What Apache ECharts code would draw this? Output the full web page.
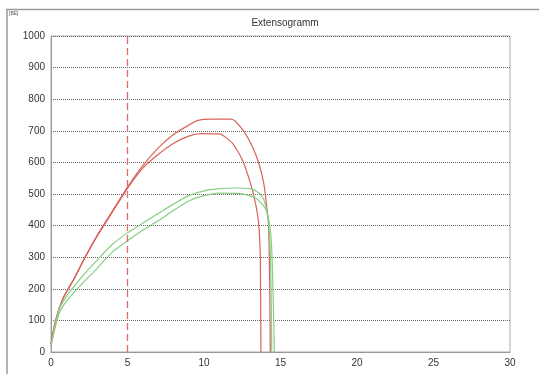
<!DOCTYPE html>
<html>
<head>
<meta charset="utf-8">
<script src="https://cdn.jsdelivr.net/npm/echarts@6/dist/echarts.min.js"></script>
<style>
  html, body { margin: 0; padding: 0; background: #fff; }
  #chart { width: 539px; height: 374px; }
</style>
</head>
<body>
<div id="chart"></div>
<script>
// Dehnung (x) / Widerstand (y)
const redUpperX = [0, 0.3, 0.8, 1.5, 2.2, 3, 4, 5, 6, 7, 8, 9, 9.6, 10.5, 11.8, 12.5, 13.14, 13.57, 13.9, 14.1, 14.22, 14.3, 14.33];
const redUpperY = [25, 100, 172, 232, 298, 368, 445, 522, 590, 645, 688, 718, 733, 737, 737, 705, 652, 599, 535, 461, 398, 200, 0];

const redLowerX = [0, 0.3, 0.8, 1.5, 2.2, 3, 4, 5, 6, 7, 8, 9, 9.8, 11, 11.84, 12.49, 13.03, 13.36, 13.57, 13.68, 13.72];
const redLowerY = [25, 100, 170, 230, 296, 365, 442, 518, 582, 625, 660, 683, 691, 690, 662, 610, 535, 472, 408, 300, 0];

const greenUpperX = [0, 0.5, 1, 2, 3, 4, 5, 6, 7, 8, 9, 10, 11, 12, 13.1, 13.79, 14.1, 14.22, 14.35, 14.43];
const greenUpperY = [20, 130, 175, 237, 290, 340, 377, 408, 438, 468, 495, 510, 517, 519, 517, 493, 451, 408, 300, 0];

const greenLowerX = [0, 0.5, 1, 2, 3, 4, 5, 6, 7, 8, 9, 10, 11, 12.3, 13.36, 14, 14.3, 14.45, 14.6];
const greenLowerY = [20, 118, 160, 215, 264, 316, 352, 385, 415, 448, 478, 495, 503, 502, 488, 455, 400, 300, 0];

const xTicks = [0, 30, 5];
const yTicks = [0, 1000, 100];
const markX = 5;

function pairs(xs, ys) {
  return xs.map(function (x, i) { return [x, ys[i]]; });
}

const chart = echarts.init(document.getElementById("chart"));

function curve(name, xs, ys, color) {
  return {
    name: name,
    type: "line",
    color: color,
    data: pairs(xs, ys),
    showSymbol: false,
    smooth: 0.2,
    lineStyle: { color: color, width: 1.2 },
    animation: false
  };
}

const series = [
  curve("rot1", redUpperX, redUpperY, "#d8625c"),
  curve("rot2", redLowerX, redLowerY, "#d8625c"),
  curve("gruen1", greenUpperX, greenUpperY, "#86cf82"),
  curve("gruen2", greenLowerX, greenLowerY, "#86cf82")
];
series[0].markLine = {
  silent: true,
  symbol: ["none", "none"],
  label: { show: false },
  emphasis: { disabled: true },
  lineStyle: { color: "#e36b6b", type: [7, 4], width: 1.3, opacity: 1 },
  data: [{ xAxis: markX, lineStyle: { color: "#e36b6b" } }]
};

chart.setOption({
  animation: false,
  textStyle: { fontFamily: "Liberation Sans" },
  title: {
    text: "Extensogramm",
    left: 280,
    top: 13,
    textAlign: "center",
    textStyle: { fontSize: 10, fontWeight: "normal", color: "#333" }
  },
  graphic: [
    {
      type: "polyline",
      shape: { points: [[7, 374], [7, 9.5], [539, 9.5]] },
      style: { stroke: "#9a9a9a", lineWidth: 1.5, fill: null }
    },
    {
      type: "text",
      left: 9,
      top: 11,
      style: { text: "[BE]", fontSize: 5, fill: "#555" }
    }
  ],
  grid: {
    left: 51,
    right: 29,
    top: 36,
    bottom: 22,
    show: true,
    borderColor: "#aaa",
    borderWidth: 1
  },
  xAxis: {
    type: "value",
    min: xTicks[0],
    max: xTicks[1],
    interval: xTicks[2],
    axisLine: { lineStyle: { color: "#999" } },
    axisTick: { show: false },
    splitLine: { show: false },
    axisLabel: { color: "#333", fontSize: 10, margin: 6 }
  },
  yAxis: {
    type: "value",
    min: yTicks[0],
    max: yTicks[1],
    interval: yTicks[2],
    axisLine: { show: true, lineStyle: { color: "#999" } },
    axisTick: { show: false },
    splitLine: { lineStyle: { color: "#666", type: [1, 1], width: 1 } },
    axisLabel: { color: "#333", fontSize: 10, margin: 6, formatter: function (v) { return String(v); } }
  },
  series: series
});
</script>
</body>
</html>
